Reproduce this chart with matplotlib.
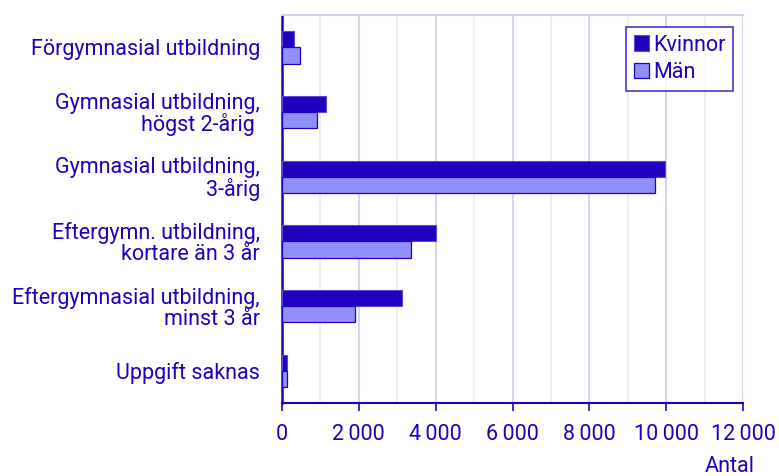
import matplotlib
matplotlib.use("Agg")
import matplotlib.pyplot as plt
from matplotlib.ticker import FuncFormatter, MultipleLocator

# Data
categories = [
    "Förgymnasial utbildning",
    "Gymnasial utbildning,\nhögst 2-årig ",
    "Gymnasial utbildning,\n3-årig",
    "Eftergymn. utbildning,\nkortare än 3 år",
    "Eftergymnasial utbildning,\nminst 3 år",
    "Uppgift saknas",
]
kvinnor = [310, 1150, 9960, 4000, 3120, 120]
man = [470, 900, 9700, 3360, 1910, 140]

text_col = "#1f00bf"
dark = "#2200c0"
light = "#8f8ff5"
fs = 15.5

plt.rcParams["font.family"] = ["Roboto", "DejaVu Sans"]

fig = plt.figure(figsize=(7.79, 4.76), dpi=100)
ax = fig.add_axes([282 / 779, 1 - 403 / 476, 461 / 779, 388 / 476])

pos = list(range(len(categories)))
h = 0.25
ax.barh([p - h / 2 for p in pos], kvinnor, height=h, color=dark,
        edgecolor="#5a4ad0", linewidth=0.8, label="Kvinnor", zorder=3)
ax.barh([p + h / 2 for p in pos], man, height=h, color=light,
        edgecolor=dark, linewidth=0.9, label="Män", zorder=3)

ax.set_ylim(len(categories) - 0.5, -0.5)
ax.set_xlim(0, 12000)
ax.set_yticks(pos)
ax.set_yticklabels(categories, ha="right", multialignment="right",
                   linespacing=1.0)
ax.tick_params(axis="y", length=0, pad=16, labelsize=fs, labelcolor=text_col)

ax.xaxis.set_major_locator(MultipleLocator(2000))
ax.xaxis.set_minor_locator(MultipleLocator(1000))
ax.xaxis.set_major_formatter(FuncFormatter(lambda v, _: f"{int(v):,}".replace(",", "\u2009")))
ax.tick_params(axis="x", which="major", length=6, width=1.2, color=dark,
               labelsize=fs, labelcolor=text_col, pad=9)
ax.tick_params(axis="x", which="minor", length=0)

ax.grid(axis="x", which="major", color="#d4d0f2", linewidth=1.3, zorder=0)
ax.grid(axis="x", which="minor", color="#eeeeee", linewidth=1.3, zorder=0)

ax.spines["left"].set_color(dark)
ax.spines["left"].set_linewidth(1.8)
ax.spines["bottom"].set_color(dark)
ax.spines["bottom"].set_linewidth(1.5)
ax.spines["top"].set_color("#d4d0f2")
ax.spines["top"].set_linewidth(1.5)
ax.spines["right"].set_visible(False)

leg = ax.legend(loc="upper right", bbox_to_anchor=(0.978, 0.969), fontsize=fs,
                frameon=True, fancybox=False, handlelength=0.7, handleheight=0.7,
                handletextpad=0.2, borderpad=0.35, labelspacing=0.3,
                borderaxespad=0)
leg.get_frame().set_edgecolor(dark)
leg.get_frame().set_linewidth(1.2)
for t in leg.get_texts():
    t.set_color(text_col)

fig.text(755 / 779, 1 - 466 / 476, "Antal", ha="right", va="center",
         fontsize=fs, color=text_col)

fig.savefig("out.png", dpi=100)
